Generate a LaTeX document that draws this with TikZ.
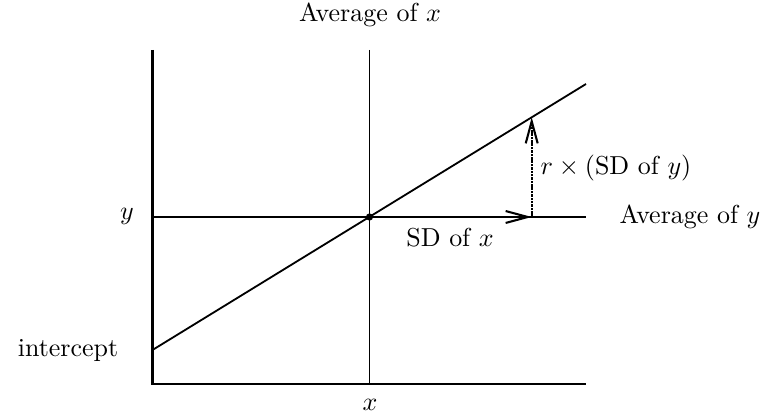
\documentclass[tikz,border=0pt]{standalone}
\usetikzlibrary{arrows.meta}
\begin{document}
\begin{tikzpicture}[x=0.385pt,y=-0.385pt,
  axis/.style={line width=1.1pt},
  thinline/.style={line width=0.45pt},
  regline/.style={line width=0.7pt},
  lbl/.style={inner sep=0pt},
  tip/.style={-{Straight Barb[length=8.5pt,width=4.6pt]}},
  dotted arrow/.style={line width=0.8pt, dash pattern=on 1pt off 0.3pt, tip},
  plain arrow/.style={line width=0.8pt, tip}]
\useasboundingbox (0,0) rectangle (776,417);
% coordinates
\coordinate (o) at (152.5,384);
\coordinate (ytop) at (152.5,50);
\coordinate (xend) at (586,384);
\coordinate (vtop) at (369.5,50);
\coordinate (vbot) at (369.5,384);
\coordinate (hl) at (152.5,217);
\coordinate (hr) at (586,217);
\coordinate (c) at (369.5,217);
\coordinate (rl) at (152.5,350);
\coordinate (rr) at (586,84);
\coordinate (a) at (531.7,217);
\coordinate (b) at (531.7,117.3);
% lines
\draw[thinline] (vtop) -- (vbot);
\draw[thinline] (hl) -- (hr);
\draw[regline] (rl) -- (rr);
\draw[axis] (ytop) -- (o) -- (xend);
\draw[plain arrow] (c) -- (a);
\draw[dotted arrow] (a) -- (b);
\fill (c) circle (3.6);
% labels
\node[lbl] (avx) at (370,15) {Average of $x$};
\node[lbl] (xl) at (370,405) {$x$};
\node[lbl] (yl) at (127,216) {$y$};
\node[lbl] (ic) at (68,350) {intercept};
\node[lbl] (avy) at (690,217) {Average of $y$};
\node[lbl] (sdx) at (450,238) {SD of $x$};
\node[lbl] (rsd) at (616,168) {$r\times(\mbox{SD of }y)$};
\end{tikzpicture}
\end{document}
